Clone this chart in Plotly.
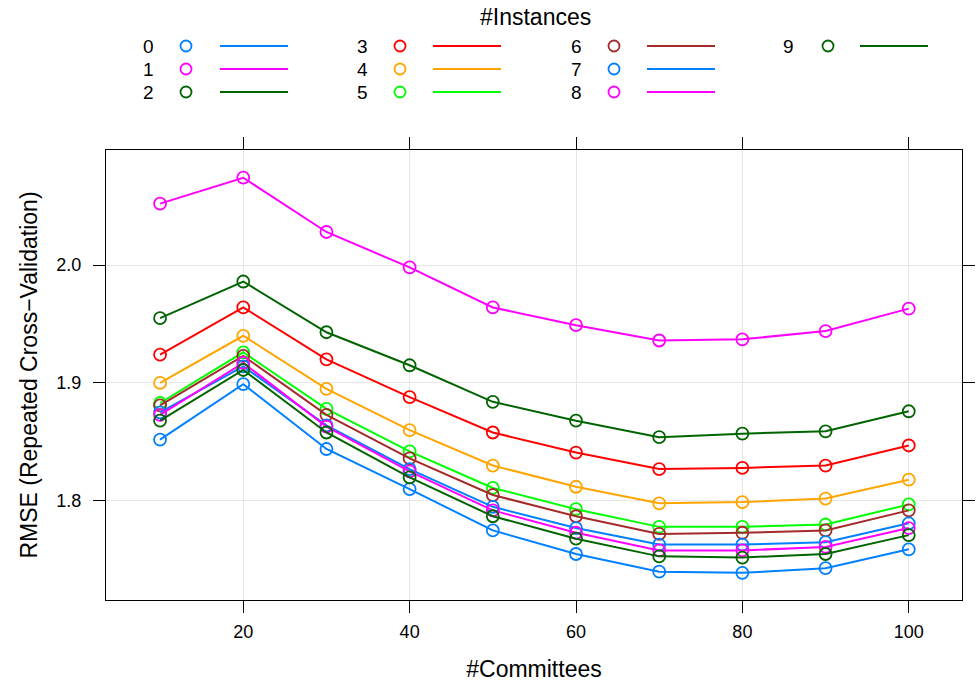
import plotly.graph_objects as go

committees = [10, 20, 30, 40, 50, 60, 70, 80, 90, 100]
instances = ["0", "1", "2", "3", "4", "5", "6", "7", "8", "9"]

rmse_0 = [1.852, 1.899, 1.844, 1.810, 1.775, 1.755, 1.740, 1.739, 1.743, 1.759]
rmse_1 = [2.052, 2.074, 2.028, 1.998, 1.964, 1.949, 1.936, 1.937, 1.944, 1.963]
rmse_2 = [1.955, 1.986, 1.943, 1.915, 1.884, 1.868, 1.854, 1.857, 1.859, 1.876]
rmse_3 = [1.924, 1.964, 1.920, 1.888, 1.858, 1.841, 1.827, 1.828, 1.830, 1.847]
rmse_4 = [1.900, 1.940, 1.895, 1.860, 1.830, 1.812, 1.798, 1.799, 1.802, 1.818]
rmse_5 = [1.883, 1.926, 1.878, 1.842, 1.811, 1.793, 1.778, 1.778, 1.780, 1.797]
rmse_6 = [1.881, 1.923, 1.873, 1.836, 1.805, 1.787, 1.772, 1.773, 1.775, 1.792]
rmse_7 = [1.875, 1.914, 1.864, 1.827, 1.795, 1.777, 1.763, 1.763, 1.765, 1.781]
rmse_8 = [1.873, 1.917, 1.863, 1.825, 1.792, 1.773, 1.758, 1.758, 1.761, 1.777]
rmse_9 = [1.868, 1.911, 1.858, 1.820, 1.787, 1.768, 1.753, 1.752, 1.755, 1.771]
series = [rmse_0, rmse_1, rmse_2, rmse_3, rmse_4, rmse_5, rmse_6, rmse_7, rmse_8, rmse_9]

palette = ["#0080ff", "#ff00ff", "#006400", "#ff0000", "#ffa500", "#00ff00", "#a52a2a"]
colors = [palette[i % 7] for i in range(10)]

FONT = "Liberation Sans, Arial, Helvetica, sans-serif"

fig = go.Figure()
for name, vals, col in zip(instances, series, colors):
    fig.add_trace(go.Scatter(
        x=committees, y=vals, mode="lines+markers", name=name,
        line=dict(color=col, width=2),
        marker=dict(symbol="circle-open", size=12, color=col, line=dict(width=1.8, color=col)),
        showlegend=False,
    ))

W, H = 976, 687
L, R, T, B = 106, 14, 150, 87
pw, ph = W - L - R, H - T - B

def px(x):
    return (x - L) / pw

def py(y):
    return (H - B - y) / ph

annotations = [dict(text="#Instances", x=px(535), y=py(17), xref="paper", yref="paper",
                    showarrow=False, font=dict(family=FONT, size=23, color="black"),
                    xanchor="center", yanchor="middle")]
shapes = []
col_label_x = [148, 362, 576, 788]
col_circle_x = [186, 400, 614, 828]
col_line_x = [(220, 288), (433, 501), (647, 715), (860, 928)]
row_y = [46, 69, 92]
for i, (name, col) in enumerate(zip(instances, colors)):
    c, r = divmod(i, 3)
    yy = row_y[r]
    annotations.append(dict(text=name, x=px(col_label_x[c]), y=py(yy), xref="paper", yref="paper",
                            showarrow=False, font=dict(family=FONT, size=19, color="black"),
                            xanchor="center", yanchor="middle", height=22))
    shapes.append(dict(type="circle", xref="paper", yref="paper", xsizemode="pixel", ysizemode="pixel",
                       xanchor=px(col_circle_x[c]), yanchor=py(yy), x0=-5.5, x1=5.5, y0=-5.5, y1=5.5,
                       line=dict(color=col, width=1.8)))
    shapes.append(dict(type="line", xref="paper", yref="paper",
                       x0=px(col_line_x[c][0]), x1=px(col_line_x[c][1]), y0=py(yy), y1=py(yy),
                       line=dict(color=col, width=2)))

fig.update_layout(
    width=W, height=H,
    margin=dict(l=L, r=R, t=T, b=B, pad=0),
    paper_bgcolor="white", plot_bgcolor="white",
    font=dict(family=FONT, size=18, color="black"),
    annotations=annotations, shapes=shapes,
    xaxis=dict(range=[3.5, 106.4], tickvals=[20, 40, 60, 80, 100], ticks="outside", ticklen=12,
               tickwidth=1.3, tickcolor="black", showline=True, linecolor="black", linewidth=1.3,
               mirror="allticks", showgrid=True, gridcolor="#e6e6e6", gridwidth=1.3, zeroline=False,
               tickfont=dict(size=18), ticklabelstandoff=3, automargin=False,
               title=dict(text="#Committees", font=dict(size=23), standoff=20)),
    yaxis=dict(range=[1.716, 2.0975], tickvals=[1.8, 1.9, 2.0], ticktext=["1.8", "1.9", "2.0"],
               ticks="outside", ticklen=12, tickwidth=1.3, tickcolor="black", showline=True,
               linecolor="black", linewidth=1.3, mirror="allticks", showgrid=True, gridcolor="#e6e6e6",
               gridwidth=1.3, zeroline=False, tickfont=dict(size=18), ticklabelstandoff=8,
               automargin=False,
               title=dict(text="RMSE (Repeated Cross\u2212Validation)", font=dict(size=23), standoff=12)),
)

fig.write_html("out.html")
